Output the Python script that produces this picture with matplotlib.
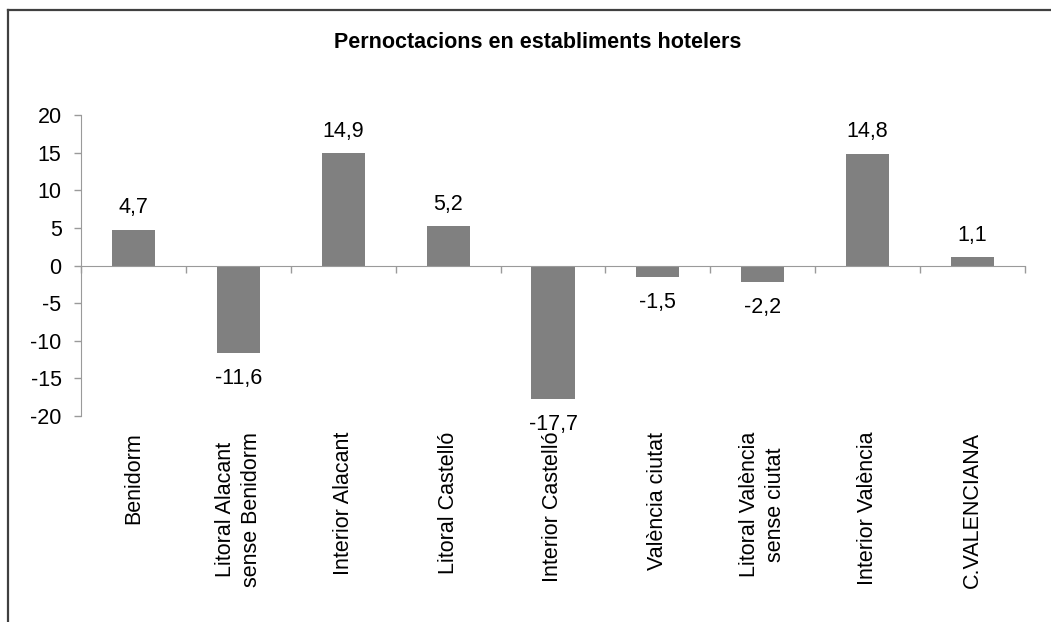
import matplotlib
matplotlib.use('Agg')
import matplotlib.pyplot as plt
from matplotlib.lines import Line2D
import matplotlib.transforms as mtransforms
import numpy as np

categories = ['Benidorm', 'Litoral Alacant\nsense Benidorm', 'Interior Alacant',
              'Litoral Castelló', 'Interior Castelló', 'València ciutat',
              'Litoral València\nsense ciutat', 'Interior València', 'C.VALENCIANA']
values = [4.7, -11.6, 14.9, 5.2, -17.7, -1.5, -2.2, 14.8, 1.1]
yticks = [-20, -15, -10, -5, 0, 5, 10, 15, 20]

plt.rcParams['font.family'] = ['Liberation Sans', 'DejaVu Sans']

W, H = 1051, 622
fs = 15.5
fig = plt.figure(figsize=(W / 100, H / 100), dpi=100)
ax = fig.add_axes([81 / W, 1 - 416 / H, (1025 - 81) / W, (416 - 115) / H])

axis_col = '#9a9a9a'
x = np.arange(len(values))
ax.bar(x, values, width=0.41, color='#808080', zorder=2)

ax.set_xlim(-0.5, len(values) - 0.5)
ax.set_ylim(-20, 20)
ax.set_yticks(yticks)
ax.set_yticklabels([str(v) for v in yticks], fontsize=fs)

# bottom axis sits on the zero line, ticks mark category boundaries
ax.spines['bottom'].set_position(('data', 0))
ax.spines['bottom'].set_color(axis_col)
ax.spines['left'].set_color(axis_col)
ax.spines['top'].set_visible(False)
ax.spines['right'].set_visible(False)
ax.set_xticks(np.arange(len(values) + 1) - 0.5)
ax.set_xticklabels([])
ax.tick_params(axis='x', direction='out', length=5, color=axis_col, width=1)
ax.tick_params(axis='y', direction='out', length=5, color=axis_col, width=1, pad=9)

trans = mtransforms.blended_transform_factory(ax.transData, ax.transAxes)
for i, lab in enumerate(categories):
    ax.text(i, -0.053, lab, transform=trans, rotation=90, ha='center', va='top',
            fontsize=fs, multialignment='center', linespacing=1.3)

for i, v in enumerate(values):
    s = f'{v:.1f}'.replace('.', ',')
    if v >= 0:
        ax.annotate(s, (i, v), xytext=(0, 12), textcoords='offset points',
                    ha='center', va='baseline', fontsize=fs)
    else:
        ax.annotate(s, (i, v), xytext=(0, -11), textcoords='offset points',
                    ha='center', va='top', fontsize=fs)

fig.text(537.5 / W, 1 - 48 / H, 'Pernoctacions en establiments hotelers',
         ha='center', va='baseline', fontsize=15.5, fontweight='bold')

# chart frame (only top and left edges visible in crop)
fig.add_artist(Line2D([8 / W, 1], [1 - 10 / H, 1 - 10 / H], transform=fig.transFigure,
                      color='#404040', linewidth=1.6))
fig.add_artist(Line2D([8 / W, 8 / W], [1 - 10 / H, 0], transform=fig.transFigure,
                      color='#404040', linewidth=1.6))

fig.savefig('out.png', dpi=100)
